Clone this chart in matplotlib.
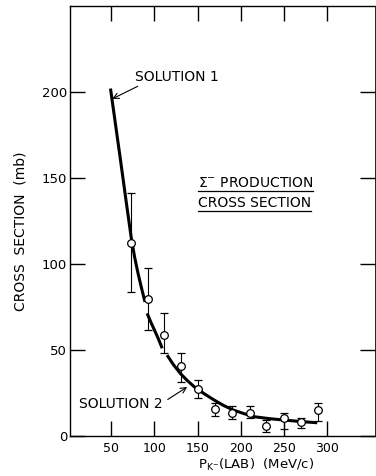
import numpy as np
import matplotlib
matplotlib.use('Agg')
import matplotlib.pyplot as plt
from matplotlib.lines import Line2D

# measured points (Sigma- production cross section)
p_lab = [73, 92, 111, 131, 150, 170, 190, 211, 230, 250, 270, 290]
sigma = [112, 79.5, 58.5, 40.5, 27.5, 15.5, 13.5, 13.5, 6, 10.5, 8, 15]
err_hi = [141, 97.5, 71.5, 48, 32.5, 19, 17.5, 17.5, 9.5, 13.5, 10.5, 19]
err_lo = [83.5, 61.5, 48, 31.5, 22, 11.5, 10, 10.5, 2.5, 4, 4.5, 9]

# fitted curve, drawn in three pieces as in the original
curve_a_x = [49, 55, 61, 67, 73, 77, 81, 85, 89]
curve_a_y = [202, 180.5, 159, 137, 115.5, 104, 94.5, 86, 78]
curve_b_x = [91.5, 96, 100, 105, 109]
curve_b_y = [71.3, 66, 61.6, 56, 51]
curve_c_x = [114.7, 122, 130, 138, 146, 158, 169, 180, 192, 204, 216, 233, 250, 270, 289]
curve_c_y = [47, 41.5, 36.4, 32.3, 28.7, 24.5, 21, 17.8, 15, 13, 11.2, 10.1, 9.3, 8.4, 7.7]

xticks = [50, 100, 150, 200, 250, 300]
yticks = [0, 50, 100, 150, 200]


def main():
    fig = plt.figure(figsize=(3.76, 4.76), dpi=100)
    ax = fig.add_axes([70 / 376, 40 / 476, 305 / 376, 430 / 476])

    ax.set_xlim(2, 356)
    ax.set_ylim(0, 250)

    yerr = [np.array(sigma) - np.array(err_lo), np.array(err_hi) - np.array(sigma)]
    ax.errorbar(p_lab, sigma, yerr=yerr, fmt='o', mfc='white', mec='black',
                ms=5.5, mew=0.9, ecolor='black', elinewidth=0.8,
                capsize=3, capthick=0.8, zorder=3)

    for cx, cy in [(curve_a_x, curve_a_y), (curve_b_x, curve_b_y), (curve_c_x, curve_c_y)]:
        ax.plot(cx, cy, color='black', lw=2.2, solid_capstyle='butt', zorder=2)

    # ticks: inward on all sides, no labels on top/right
    ax.set_xticks(xticks)
    ax.set_yticks(yticks)
    ax.tick_params(axis='both', direction='in', length=11, width=1.0,
                   top=True, right=True, colors='black')
    ax.tick_params(axis='y', pad=2, labelsize=9.5)
    ax.tick_params(axis='x', pad=4, labelsize=9)
    for s in ax.spines.values():
        s.set_linewidth(1.0)
    ax.spines['right'].set_linewidth(0.6)

    fig.text(21 / 376, 1 - 231 / 476, 'CROSS  SECTION  (mb)', rotation=90,
             ha='center', va='center', fontsize=10)
    fig.text(256 / 376, 1 - 465 / 476, r'P$_{\mathregular{K}^{-}}$(LAB)  (MeV/c)',
             ha='center', va='center', fontsize=9.5)

    ax.annotate('SOLUTION 1', xy=(51, 196), xytext=(126, 209),
                ha='center', va='center', fontsize=10,
                arrowprops=dict(arrowstyle='->', color='black', lw=0.8,
                                shrinkA=0, shrinkB=0, relpos=(0.1, 0.0)))
    ax.annotate('SOLUTION 2', xy=(138, 28.5), xytext=(61, 18.5),
                ha='center', va='center', fontsize=10,
                arrowprops=dict(arrowstyle='->', color='black', lw=0.8,
                                shrinkA=2, shrinkB=0, relpos=(1.0, 0.6)))

    t1 = ax.text(150, 147, r'$\Sigma^{-}$ PRODUCTION', ha='left', va='center', fontsize=10)
    t2 = ax.text(150, 135.5, 'CROSS SECTION', ha='left', va='center', fontsize=10)

    # underline the two title lines
    fig.canvas.draw()
    renderer = fig.canvas.get_renderer()
    inv = fig.transFigure.inverted()
    for t in (t1, t2):
        bb = t.get_window_extent(renderer)
        (x0, y0), (x1, _) = inv.transform([(bb.x0, bb.y0 - 1), (bb.x1, bb.y0 - 1)])
        fig.add_artist(Line2D([x0, x1], [y0, y0], transform=fig.transFigure,
                              color='black', lw=0.9))

    fig.savefig('out.png', dpi=100)


if __name__ == '__main__':
    main()
